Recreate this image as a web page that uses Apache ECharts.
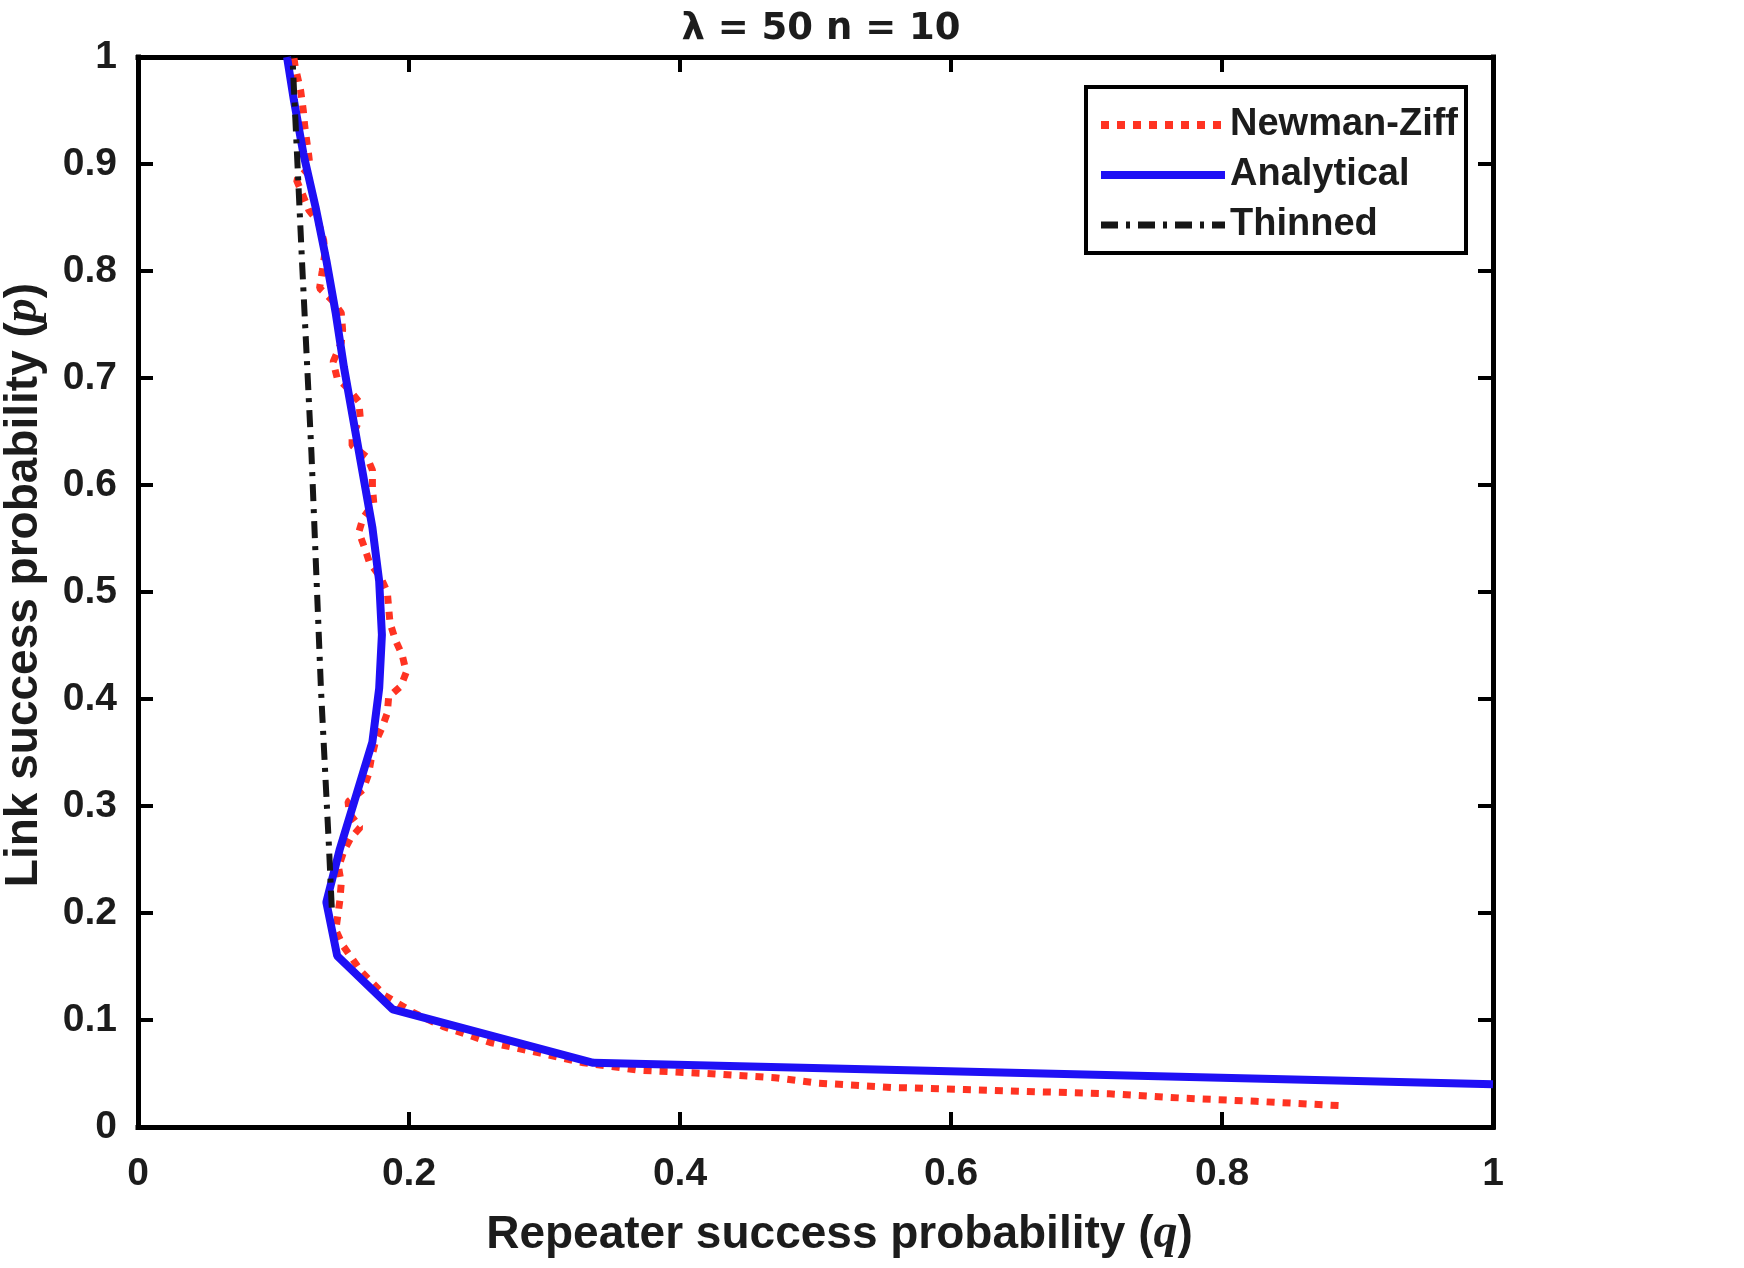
<!DOCTYPE html>
<html>
<head>
<meta charset="utf-8">
<title>lambda = 50 n = 10</title>
<script src="https://cdn.jsdelivr.net/npm/echarts@6/dist/echarts.min.js"></script>
<style>
  html, body { margin: 0; padding: 0; background: #fff; }
  #chart { width: 1744px; height: 1268px; }
</style>
</head>
<body>
<div id="chart"></div>
<script>
'use strict';

// Newman-Ziff (simulation), traced bottom -> top
var nzQ = [0.886, 0.825, 0.771, 0.717, 0.663, 0.610, 0.556, 0.502, 0.470, 0.420,
           0.370, 0.329, 0.297, 0.260, 0.225, 0.203, 0.182, 0.165, 0.151, 0.146,
           0.149, 0.150, 0.148, 0.152, 0.157, 0.164, 0.156, 0.155, 0.166, 0.170,
           0.172, 0.175, 0.180, 0.184, 0.185, 0.194, 0.198, 0.195, 0.190, 0.186,
           0.185, 0.184, 0.179, 0.171, 0.167, 0.163, 0.166, 0.174, 0.173, 0.173,
           0.169, 0.158, 0.158, 0.164, 0.163, 0.156, 0.147, 0.144, 0.150, 0.151,
           0.150, 0.143, 0.134, 0.136, 0.138, 0.137, 0.133, 0.126, 0.121, 0.117,
           0.127, 0.126, 0.123, 0.122, 0.120, 0.116, 0.115];
var nzP = [0.020, 0.024, 0.027, 0.031, 0.033, 0.035, 0.037, 0.041, 0.046, 0.050,
           0.053, 0.060, 0.069, 0.079, 0.094, 0.107, 0.123, 0.145, 0.170, 0.184,
           0.212, 0.228, 0.243, 0.258, 0.270, 0.280, 0.293, 0.304, 0.315, 0.329,
           0.343, 0.359, 0.373, 0.387, 0.402, 0.412, 0.425, 0.441, 0.455, 0.471,
           0.485, 0.500, 0.514, 0.527, 0.542, 0.556, 0.569, 0.583, 0.598, 0.614,
           0.626, 0.637, 0.645, 0.663, 0.678, 0.689, 0.700, 0.715, 0.733, 0.745,
           0.761, 0.773, 0.784, 0.800, 0.817, 0.829, 0.846, 0.857, 0.873, 0.885,
           0.897, 0.908, 0.936, 0.950, 0.969, 0.991, 1.000];

// Analytical
var anQ = [1.000, 0.336, 0.188, 0.147, 0.139, 0.149, 0.161, 0.173, 0.178, 0.180, 0.178,
           0.173, 0.166, 0.159, 0.152, 0.146, 0.139, 0.131, 0.122, 0.115, 0.110];
var anP = [0.040, 0.060, 0.110, 0.160, 0.210, 0.260, 0.310, 0.360, 0.410, 0.460, 0.510,
           0.560, 0.610, 0.660, 0.710, 0.760, 0.810, 0.860, 0.910, 0.960, 1.000];

// Thinned
var thQ = [0.143, 0.141, 0.135, 0.128, 0.121, 0.114];
var thP = [0.205, 0.260, 0.410, 0.630, 0.810, 1.000];

var seriesNames = ['Newman-Ziff', 'Analytical', 'Thinned'];
var titleText = '\u03bb = 50 n = 10';

function zip(xs, ys) {
    var out = [];
    for (var i = 0; i < xs.length; i++) out.push([xs[i], ys[i]]);
    return out;
}

var FONT = '"Liberation Sans", Arial, sans-serif';
var SERIF = '"Liberation Serif", "DejaVu Serif", serif';
var INK = '#1c1c1c';

var axisLineStyle = { color: '#000', width: 5, cap: 'square' };
var tickStyle = { show: true, inside: true, length: 15, lineStyle: { color: '#000', width: 4 } };
var labelStyle = { fontFamily: FONT, fontWeight: 'bold', fontSize: 39, color: INK };
var nameRich = {
    a: { fontFamily: FONT, fontWeight: 'bold', fontSize: 46, color: INK },
    b: { fontFamily: SERIF, fontStyle: 'italic', fontWeight: 'bold', fontSize: 48, color: INK }
};
var hiddenMark = { color: 'transparent', borderWidth: 0, opacity: 0 };

var option = {
    backgroundColor: '#fff',
    animation: false,
    title: {
        text: titleText,
        left: 816,
        top: 6,
        textAlign: 'center',
        textStyle: { fontFamily: '"DejaVu Sans", sans-serif', fontWeight: 'bold', fontSize: 37, color: INK }
    },
    grid: { left: 138, right: 251, top: 57, bottom: 141, containLabel: false, outerBoundsMode: 'none' },
    legend: {
        orient: 'vertical',
        left: 1086,
        top: 87,
        padding: [18, 8, 8, 11],
        itemGap: 10,
        itemWidth: 124,
        itemHeight: 14,
        itemTextGap: 21,
        borderColor: '#000',
        borderWidth: 4,
        backgroundColor: '#fff',
        textStyle: { fontFamily: FONT, fontWeight: 'bold', fontSize: 38, color: INK, lineHeight: 40 },
        data: [
            { name: seriesNames[0], lineStyle: { width: 8 }, itemStyle: hiddenMark },
            { name: seriesNames[1], lineStyle: { width: 8 }, itemStyle: hiddenMark },
            { name: seriesNames[2], lineStyle: { width: 7 }, itemStyle: hiddenMark }
        ]
    },
    xAxis: [{
        type: 'value', min: 0, max: 1, interval: 0.2,
        position: 'bottom',
        splitLine: { show: false },
        axisLine: { show: true, lineStyle: axisLineStyle },
        axisTick: tickStyle,
        axisLabel: Object.assign({ margin: 28 }, labelStyle),
        name: '{a|Repeater success probability (}{b|q}{a|)}',
        nameLocation: 'middle',
        nameGap: 84,
        nameTextStyle: { rich: nameRich, padding: [0, 0, 0, 48] }
    }, {
        type: 'value', min: 0, max: 1, interval: 0.2,
        position: 'top',
        splitLine: { show: false },
        axisLine: { show: true, onZero: false, lineStyle: axisLineStyle },
        axisTick: tickStyle,
        axisLabel: { show: false }
    }],
    yAxis: [{
        type: 'value', min: 0, max: 1, interval: 0.1,
        position: 'left',
        splitLine: { show: false },
        axisLine: { show: true, lineStyle: axisLineStyle },
        axisTick: tickStyle,
        axisLabel: Object.assign({ margin: 21 }, labelStyle),
        name: '{a|Link success probability (}{b|p}{a|)}',
        nameLocation: 'middle',
        nameRotate: 90,
        nameGap: 90,
        nameTextStyle: { rich: nameRich, padding: [0, 0, 0, 14] }
    }, {
        type: 'value', min: 0, max: 1, interval: 0.1,
        position: 'right',
        splitLine: { show: false },
        axisLine: { show: true, onZero: false, lineStyle: axisLineStyle },
        axisTick: tickStyle,
        axisLabel: { show: false }
    }],
    series: [{
        name: seriesNames[0],
        type: 'line',
        data: zip(nzQ, nzP),
        symbol: 'none',
        z: 2,
        lineStyle: { color: '#ff3322', width: 7, type: [8, 8], cap: 'butt' },
        itemStyle: { color: '#ff3322' }
    }, {
        name: seriesNames[1],
        type: 'line',
        data: zip(anQ, anP),
        symbol: 'none',
        z: 3,
        lineStyle: { color: '#1f10f5', width: 8, type: 'solid' },
        itemStyle: { color: '#1f10f5' }
    }, {
        name: seriesNames[2],
        type: 'line',
        data: zip(thQ, thP),
        symbol: 'none',
        z: 4,
        lineStyle: { color: '#161616', width: 6, type: [17, 8, 4, 8], cap: 'butt' },
        itemStyle: { color: '#161616' }
    }]
};

var myChart = echarts.init(document.getElementById('chart'));
myChart.setOption(option);
window.addEventListener('resize', function () {
    myChart.resize();
});
</script>
</body>
</html>
